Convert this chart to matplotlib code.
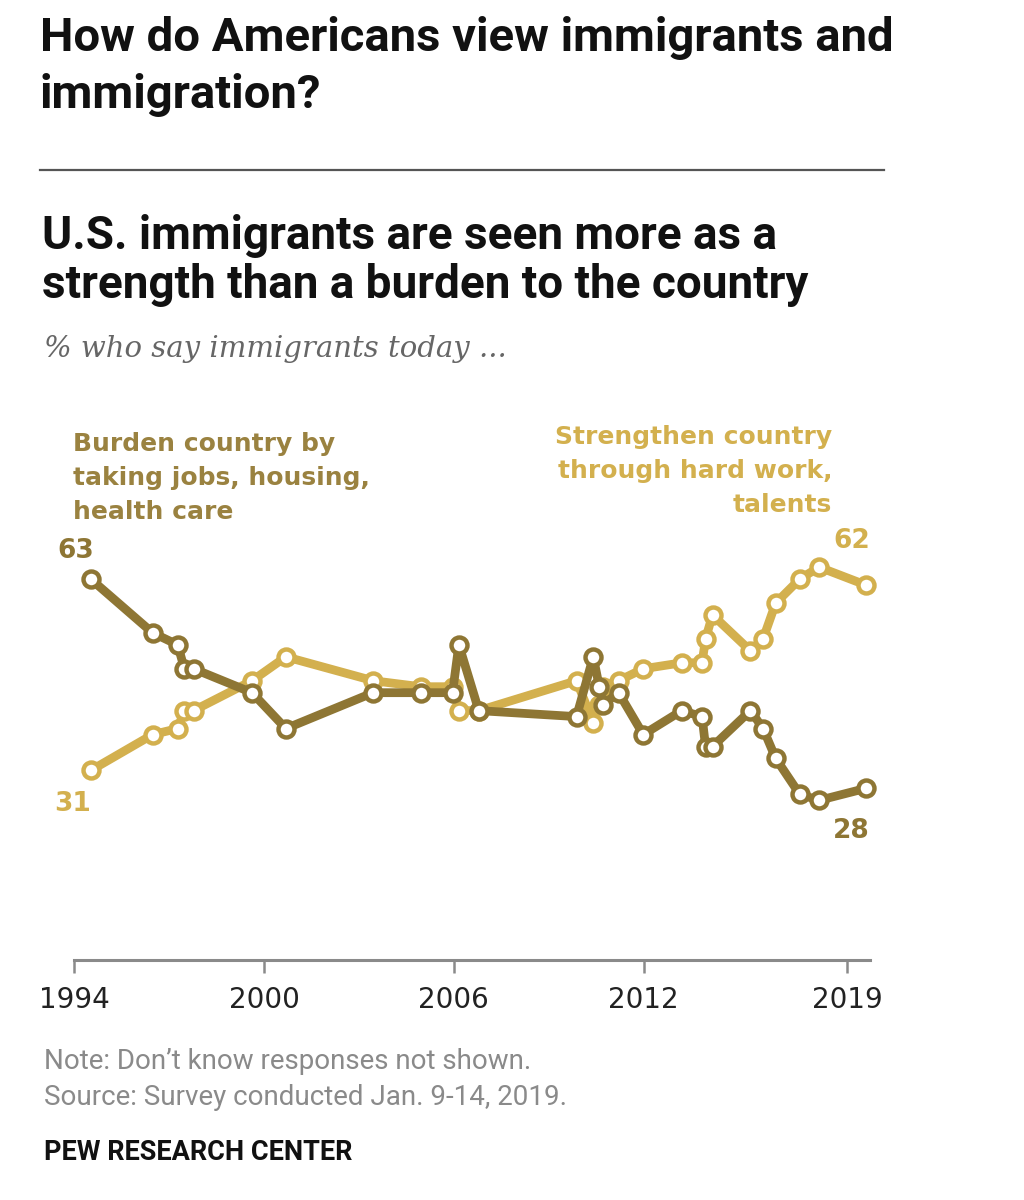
import matplotlib
matplotlib.use("Agg")
import matplotlib.pyplot as plt
from matplotlib.lines import Line2D

# survey dates (fractional years) and % values
years = [1994.52, 1996.48, 1997.27, 1997.48, 1997.77, 1999.62, 2000.69, 2003.45,
         2004.95, 2005.96, 2006.16, 2006.79, 2009.88, 2010.41, 2010.60, 2010.71,
         2011.21, 2011.99, 2013.21, 2013.85, 2013.96, 2014.18, 2015.38, 2015.78,
         2016.18, 2016.94, 2017.55, 2019.03]
burden = [63, 54, 52, 48, 48, 44, 38, 44, 44, 44, 52, 41, 40, 50, 45, 42,
          44, 37, 41, 40, 35, 35, 41, 38, 33, 27, 26, 28]
strengthen = [31, 37, 38, 41, 41, 46, 50, 46, 45, 45, 41, 41, 46, 39, 42, 45,
              46, 48, 49, 49, 53, 57, 51, 53, 59, 63, 65, 62]

tick_pos = [1994, 2000, 2006, 2012, 2018.43]
tick_labels = ["1994", "2000", "2006", "2012", "2019"]

DARK = "#8E7634"
LIGHT = "#D3B04E"
W, H = 1024, 1200


def px(x, y):
    return x / W, 1 - y / H


fig = plt.figure(figsize=(10.24, 12), dpi=100)
fig.patch.set_facecolor("white")

# axes placed so that 1994 sits at x=74px and the baseline at y=960px
ax = fig.add_axes([74.3 / W, 1 - 960 / H, 795.7 / W, 422.8 / H])
ax.set_xlim(1994, 2019.16)
ax.set_ylim(-0.7, 70)

style = dict(lw=6.3, marker="o", ms=11.5, mew=3.2, mfc="white",
             solid_capstyle="round", solid_joinstyle="round", clip_on=False)
ax.plot(years, strengthen, color=LIGHT, zorder=3, **style)
ax.plot(years, burden, color=DARK, zorder=4, **style)

for s in ["top", "right", "left"]:
    ax.spines[s].set_visible(False)
ax.spines["bottom"].set_color("#8a8a8a")
ax.spines["bottom"].set_linewidth(2.2)
ax.set_yticks([])
ax.set_xticks(tick_pos)
ax.set_xticklabels(tick_labels, fontsize=20, color="#222222", family="DejaVu Sans")
ax.tick_params(axis="x", length=9, width=1.8, color="#8a8a8a", pad=10)

# end-point labels
lab = dict(textcoords="offset points", ha="center", va="center",
           fontsize=19, fontweight="bold", family="DejaVu Sans")
ax.annotate(str(burden[0]), (years[0], burden[0]), xytext=(-10.6, 20), color=DARK, **lab)
ax.annotate(str(strengthen[0]), (years[0], strengthen[0]), xytext=(-12.7, -24), color=LIGHT, **lab)
ax.annotate(str(strengthen[-1]), (years[-1], strengthen[-1]), xytext=(-10, 32), color=LIGHT, **lab)
ax.annotate(str(burden[-1]), (years[-1], burden[-1]), xytext=(-10.8, -30.5), color=DARK, **lab)

# series labels (va=baseline pins the last line)
fig.text(*px(73, 519), "Burden country by\ntaking jobs, housing,\nhealth care",
         color="#9A8240", fontsize=18, fontweight="bold", family="DejaVu Sans",
         va="baseline", ha="left", linespacing=1.52)
fig.text(*px(832, 512), "Strengthen country\nthrough hard work,\ntalents",
         color=LIGHT, fontsize=18, fontweight="bold", family="DejaVu Sans",
         va="baseline", ha="right", multialignment="right", linespacing=1.52)

# headings
fig.text(*px(40, 108), "How do Americans view immigrants and\nimmigration?",
         fontsize=34, fontweight="bold", family="Roboto", color="#111111",
         va="baseline", ha="left", linespacing=1.37)
fig.add_artist(Line2D([40 / W, 884 / W], [1 - 170 / H, 1 - 170 / H],
                      color="#555555", lw=1.6))
fig.text(*px(42, 298), "U.S. immigrants are seen more as a\nstrength than a burden to the country",
         fontsize=33, fontweight="bold", family="Roboto", color="#111111",
         va="baseline", ha="left", linespacing=1.15)
fig.text(*px(44, 357), "% who say immigrants today ...", fontsize=21, style="italic",
         family="DejaVu Serif", color="#666666", va="baseline", ha="left")

# footer
fig.text(*px(44, 1069), "Note: Don\u2019t know responses not shown.", fontsize=20,
         family="Roboto", color="#8a8a8a", va="baseline")
fig.text(*px(44, 1105), "Source: Survey conducted Jan. 9-14, 2019.", fontsize=20,
         family="Roboto", color="#8a8a8a", va="baseline")
fig.text(*px(44, 1160), "PEW RESEARCH CENTER", fontsize=19.5, fontweight="bold",
         family="Roboto", color="#111111", va="baseline")

fig.savefig("out.png", dpi=100, facecolor="white")
